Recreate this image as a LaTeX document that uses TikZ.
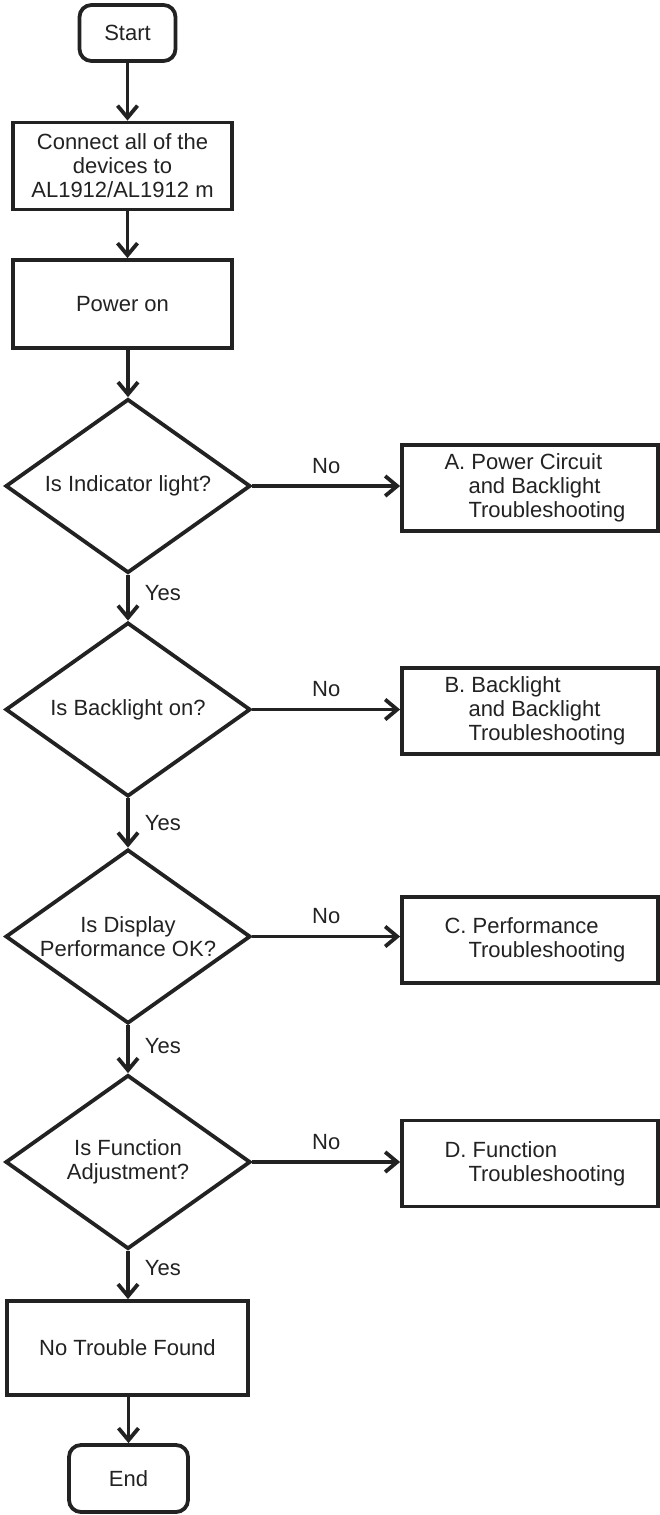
\documentclass[tikz,border=0pt]{standalone}
\usepackage{fontspec}
\setmainfont{Liberation Sans}
\usetikzlibrary{shapes.geometric,arrows.meta}
\definecolor{ink}{HTML}{222222}
\begin{document}
\begin{tikzpicture}[x=1pt,y=-1pt, line width=3.8pt, color=ink,
  font=\fontsize{22}{24}\selectfont,
  proc/.style={draw, rectangle, inner sep=0pt, align=center},
  term/.style={proc, rounded corners=12pt},
  dec/.style={draw, diamond, shape aspect=1.4, inner sep=0pt, align=center, minimum width=245pt, minimum height=174pt},
  side/.style={proc, align=left, minimum width=256pt, minimum height=86pt},
  flow/.style={-{Straight Barb[length=12pt,width=20pt]}},
  lab/.style={inner sep=0pt}]
\useasboundingbox (0,0) rectangle (660,1515);
\node[term, minimum width=96pt, minimum height=56pt] (start) at (127.5,33) {Start};
\node[proc, minimum width=219pt, minimum height=87pt] (connect) at (122.5,166) {Connect all of the\\devices to\\AL1912/AL1912 m};
\node[proc, minimum width=219pt, minimum height=88pt] (power) at (122.5,304) {Power on};
\node[dec] (d1) at (128,486) {Is Indicator light?};
\node[side] (a) at (530,488) {\hspace*{10pt}A. Power Circuit\\\hspace*{34pt}and Backlight\\\hspace*{34pt}Troubleshooting};
\node[dec] (d2) at (128,709.5) {Is Backlight on?};
\node[side] (b) at (530,711) {\hspace*{10pt}B. Backlight\\\hspace*{34pt}and Backlight\\\hspace*{34pt}Troubleshooting};
\node[dec] (d3) at (128,936.5) {Is Display\\Performance OK?};
\node[side] (c) at (530,940) {\hspace*{10pt}C. Performance\\\hspace*{34pt}Troubleshooting};
\node[dec] (d4) at (128,1162) {Is Function\\Adjustment?};
\node[side] (dd) at (530,1163.5) {\hspace*{10pt}D. Function\\\hspace*{34pt}Troubleshooting};
\node[proc, minimum width=241pt, minimum height=94pt] (ntf) at (127.5,1348) {No Trouble Found};
\node[term, minimum width=119pt, minimum height=67pt] (end) at (128.5,1478.5) {End};

\draw[flow] (start.south) -- (start.south |- connect.north);
\draw[flow] (connect.south -| start.south) -- (start.south |- power.north);
\draw[flow] (power.south -| d1.north) -- (d1.north);
\draw[flow] (d1.south) -- node[lab, anchor=west, pos=.39, xshift=15pt]{Yes} (d2.north);
\draw[flow] (d2.south) -- node[lab, anchor=west, pos=.5, xshift=15pt]{Yes} (d3.north);
\draw[flow] (d3.south) -- node[lab, anchor=west, pos=.44, xshift=15pt]{Yes} (d4.north);
\draw[flow] (d4.south) -- node[lab, anchor=west, pos=.35, xshift=15pt]{Yes} (ntf.north -| d4.south);
\draw[flow] (ntf.south -| end.north) -- (end.north);

\draw[flow] (d1.east) -- node[lab, midway, yshift=20pt]{No} (d1.east -| a.west);
\draw[flow] (d2.east) -- node[lab, midway, yshift=20pt]{No} (d2.east -| b.west);
\draw[flow] (d3.east) -- node[lab, midway, yshift=20pt]{No} (d3.east -| c.west);
\draw[flow] (d4.east) -- node[lab, midway, yshift=20pt]{No} (d4.east -| dd.west);
\end{tikzpicture}
\end{document}
